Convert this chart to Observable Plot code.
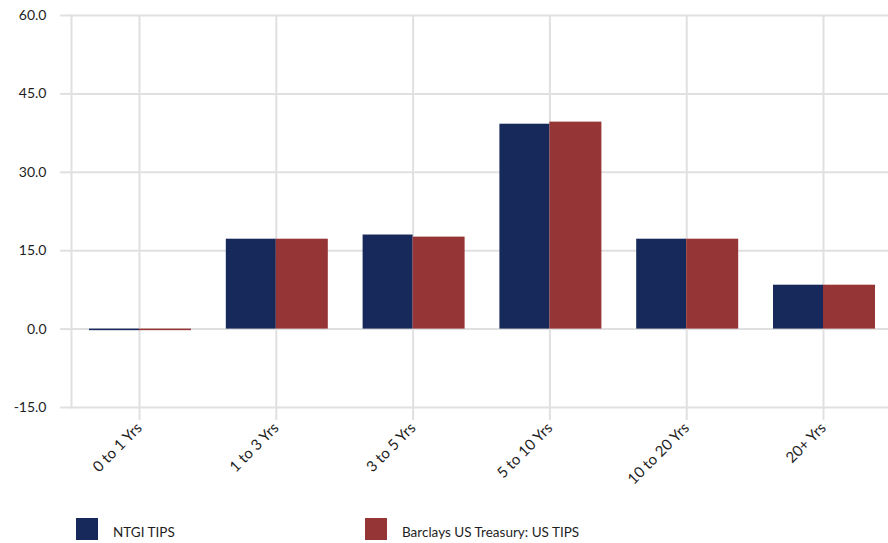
<!DOCTYPE html>
<html>
<head>
<meta charset="utf-8">
<script src="https://cdn.jsdelivr.net/npm/d3@7"></script>
<script src="https://cdn.jsdelivr.net/npm/@observablehq/plot@0.6"></script>
<style>
  html, body { margin: 0; padding: 0; background: #fff; }
  #wrap { position: relative; width: 888px; height: 543px; font-family: Lato, "Open Sans", sans-serif; }
  .leg { position: absolute; top: 518px; height: 22px; display: flex; align-items: center; font-size: 13.5px; color: #1e1e1e; }
  .leg span { position: relative; top: 3px; }
  .sw { width: 22px; height: 22px; margin-right: 15px; }
</style>
</head>
<body>
<div id="wrap"><div id="chart"></div></div>
<script>
const categories = ["0 to 1 Yrs", "1 to 3 Yrs", "3 to 5 Yrs", "5 to 10 Yrs", "10 to 20 Yrs", "20+ Yrs"];
const ntgi = [-0.3, 17.2, 18.0, 39.2, 17.2, 8.4];
const barclays = [-0.3, 17.2, 17.6, 39.6, 17.2, 8.4];
const seriesNames = ["NTGI TIPS", "Barclays US Treasury: US TIPS"];
const seriesColors = ["#17295a", "#963535"];
const yTicks = [-15, 0, 15, 30, 45, 60];

const ntgiData = categories.map((c, i) => ({category: c, value: ntgi[i]}));
const barcData = categories.map((c, i) => ({category: c, value: barclays[i]}));
const grid = "#e0e0e0";

const chart = Plot.plot({
  width: 888,
  height: 508,
  marginTop: 15,
  marginBottom: 101,
  marginLeft: 71,
  marginRight: 0,
  style: {fontFamily: 'Lato, "Open Sans", sans-serif', fontSize: "14px", background: "#fff"},
  x: {domain: categories, range: [70.6, 891.4], padding: 0, round: false},
  y: {domain: [-15, 60], ticks: yTicks},
  marks: [
    Plot.gridY({ticks: yTicks, stroke: grid, strokeOpacity: 1, strokeWidth: 2}),
    Plot.gridX({stroke: grid, strokeOpacity: 1, strokeWidth: 2}),
    Plot.frame({anchor: "left", stroke: grid, strokeWidth: 2}),
    Plot.axisY({ticks: yTicks, tickFormat: d => d.toFixed(1), tickSize: 11, tickPadding: 14,
      stroke: grid, strokeWidth: 2, strokeOpacity: 1, fill: "#1e1e1e", fontSize: 14, label: null}),
    Plot.axisX({tickSize: 13, tickPadding: 5, tickRotate: -45, stroke: grid, strokeWidth: 2, strokeOpacity: 1,
      fill: "#1e1e1e", fontSize: 15, label: null}),
    Plot.barY(ntgiData, {x: "category", y: "value", fill: seriesColors[0], insetLeft: 18.4, insetRight: 68.4}),
    Plot.barY(barcData, {x: "category", y: "value", fill: seriesColors[1], insetLeft: 68.4, insetRight: 16.4})
  ]
});
document.getElementById("chart").appendChild(chart);

const wrap = document.getElementById("wrap");
const legPos = [76, 365];
seriesNames.forEach((name, i) => {
  const d = document.createElement("div");
  d.className = "leg";
  d.style.left = legPos[i] + "px";
  const sw = document.createElement("div");
  sw.className = "sw";
  sw.style.background = seriesColors[i];
  const t = document.createElement("span");
  t.textContent = name;
  d.appendChild(sw); d.appendChild(t);
  wrap.appendChild(d);
});
</script>
</body>
</html>
